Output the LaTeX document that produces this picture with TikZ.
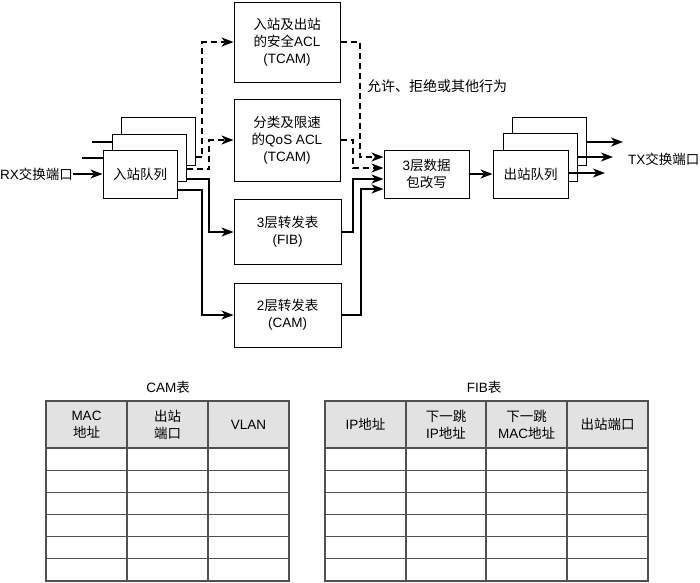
\documentclass[tikz,border=0pt]{standalone}
\usepackage{fontspec}
\setmainfont{Liberation Sans}
\newfontfamily\cjk{Noto Sans CJK SC}
\newcommand\zhs[1]{{\cjk #1}}
\usetikzlibrary{arrows.meta}
\definecolor{hdrgray}{HTML}{E2E2E2}
\definecolor{tblline}{HTML}{505050}
\begin{document}
\begin{tikzpicture}[x=1pt,y=-1pt,
  font=\fontsize{13.5}{17}\selectfont,
  box/.style={draw, line width=1pt, fill=white, align=center, inner sep=0pt},
  conn/.style={line width=1.3pt, -{Stealth[length=12pt,width=9pt,inset=3.5pt]}},
  dconn/.style={conn, dash pattern=on 6pt off 4pt},
  plain/.style={line width=1.3pt},
  tline/.style={draw=tblline, line width=1.1pt},
  lbl/.style={inner sep=0pt, align=center}]
\useasboundingbox (0,0) rectangle (700,582);

% ingress queue stack
\coordinate (inA) at (92,142);
\coordinate (inB) at (82,158);
\node[box, minimum width=74pt, minimum height=48pt] (inq3) at (158,141) {};
\node[box, minimum width=74pt, minimum height=47pt] (inq2) at (149,157.5) {};
\draw[plain] (inA) -- (inA -| inq2.west);
\node[box, minimum width=74pt, minimum height=48pt] (inq1) at (140,174) {\zhs{入站队列}};
\draw[plain] (inB) -- (inB -| inq1.west);

\node[lbl, anchor=west] (rx) at (0,174) {RX\zhs{交换端口}};
\draw[conn] (rx.east) -- (inq1.west);

% lookup tables
\node[box, minimum width=106pt, minimum height=80pt] (acl) at (287,42) {\zhs{入站及出站}\\\zhs{的安全}ACL\\(TCAM)};
\node[box, minimum width=106pt, minimum height=82pt] (qos) at (287,140) {\zhs{分类及限速}\\\zhs{的}QoS ACL\\(TCAM)};
\node[box, minimum width=107pt, minimum height=65pt] (fib) at (287.5,232) {3\zhs{层转发表}\\(FIB)};
\node[box, minimum width=107pt, minimum height=64pt] (cam) at (287.5,315) {2\zhs{层转发表}\\(CAM)};

% rewrite
\node[box, minimum width=85pt, minimum height=48pt] (rw) at (426.5,174) {3\zhs{层数据}\\\zhs{包改写}};

% egress queue stack
\node[box, minimum width=74pt, minimum height=48pt] (oq3) at (549,141) {};
\node[box, minimum width=74pt, minimum height=48pt] (oq2) at (540,157) {};
\node[box, minimum width=75pt, minimum height=48pt] (oq1) at (530.5,174) {\zhs{出站队列}};

\node[lbl, anchor=west] (tx) at (628,159) {TX\zhs{交换端口}};
\coordinate (t1) at (623,142);
\coordinate (t2) at (613,157);
\coordinate (t3) at (605,173);

% label
\node[lbl, anchor=west, font=\fontsize{14}{17}\selectfont] (act) at (367,86) {\zhs{允许、拒绝或其他行为}};

% left connectors
\draw[dconn] (inq3.east |- 0,157) -- (202,157) -- (202,42) -- (acl.west);
\draw[dconn] (inq2.east |- 0,169) -- (209,169) -- (209,140) -- (qos.west);
\draw[conn] (inq2.east |- 0,179) -- (209,179) -- (209,232) -- (fib.west);
\draw[conn] (inq1.east |- 0,190) -- (202,190) -- (202,315) -- (cam.west);

% right connectors
\draw[dconn] (acl.east) -- (360,42) -- (360,157) -- (rw.west |- 0,157);
\draw[dconn] (qos.east) -- (353,140) -- (353,168) -- (rw.west |- 0,168);
\draw[conn] (fib.east) -- (353,232) -- (353,179) -- (rw.west |- 0,179);
\draw[conn] (cam.east) -- (361,315) -- (361,189) -- (rw.west |- 0,189);

\draw[conn] (rw.east) -- (oq1.west);

\draw[conn] (oq3.east |- t1) -- (t1);
\draw[conn] (oq2.east |- t2) -- (t2);
\draw[conn] (oq1.east |- t3) -- (t3);

% CAM table
\node[lbl] (camt) at (168,387) {CAM\zhs{表}};
\fill[hdrgray] (46,401) rectangle (289,448);
\foreach \i in {1,...,5} \draw[tline] (46,448+\i*22.17) -- (289,448+\i*22.17);
\draw[tline] (46,448) -- (289,448);
\foreach \x in {127,208} \draw[tline] (\x,401) -- (\x,581);
\draw[tline] (46,401) rectangle (289,581);
\node[lbl] (c1) at (86.5,424.5) {MAC\\\zhs{地址}};
\node[lbl] (c2) at (167.5,424.5) {\zhs{出站}\\\zhs{端口}};
\node[lbl] (c3) at (248.5,424.5) {VLAN};

% FIB table
\node[lbl] (fibt) at (484,387) {FIB\zhs{表}};
\fill[hdrgray] (325,401) rectangle (648,448);
\foreach \i in {1,...,5} \draw[tline] (325,448+\i*22.17) -- (648,448+\i*22.17);
\draw[tline] (325,448) -- (648,448);
\foreach \x in {406,486,567} \draw[tline] (\x,401) -- (\x,581);
\draw[tline] (325,401) rectangle (648,581);
\node[lbl] (f1) at (365.5,424.5) {IP\zhs{地址}};
\node[lbl] (f2) at (446,424.5) {\zhs{下一跳}\\IP\zhs{地址}};
\node[lbl] (f3) at (526.5,424.5) {\zhs{下一跳}\\MAC\zhs{地址}};
\node[lbl] (f4) at (607.5,424.5) {\zhs{出站端口}};
\end{tikzpicture}
\end{document}
